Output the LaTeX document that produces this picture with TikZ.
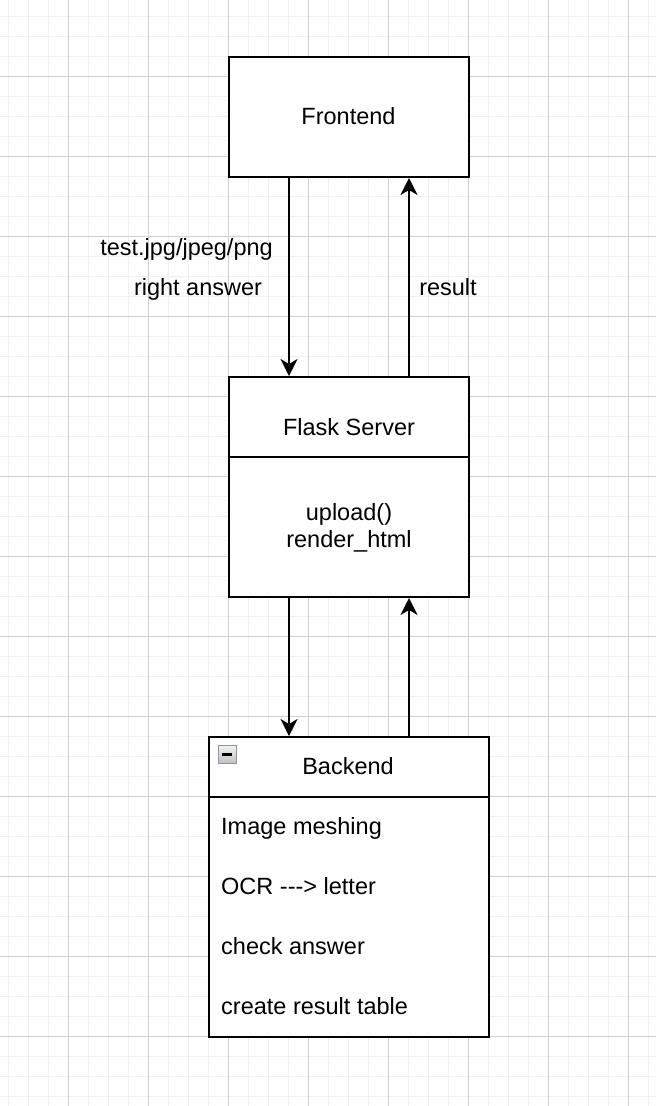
\documentclass[tikz,border=0pt]{standalone}
\usepackage{fontspec}
\setmainfont{Liberation Sans}
\usetikzlibrary{arrows.meta}

\definecolor{minorgrid}{HTML}{F0F0F0}
\definecolor{majorgrid}{HTML}{D0D0D0}
\definecolor{iconline}{HTML}{8A96A3}
\tikzstyle{box}=[draw,fill=white,line width=2pt,inner sep=0pt]
\tikzstyle{lbl}=[inner sep=0pt,anchor=base,font=\fontsize{23.5}{28}\selectfont]
\tikzstyle{item}=[lbl,anchor=base west]
\tikzstyle{arr}=[line width=2pt,-{Stealth[length=17pt,width=17pt,inset=5pt]}]

\begin{document}
\begin{tikzpicture}[x=1pt,y=-1pt]
\useasboundingbox (0,0) rectangle (656,1106);
% grid
\foreach \x in {8,28,...,648} \draw[minorgrid,line width=1pt] (\x,0) -- (\x,1106);
\foreach \y in {16,36,...,1096} \draw[minorgrid,line width=1pt] (0,\y) -- (656,\y);
\foreach \x in {68,148,...,628} \draw[majorgrid,line width=1pt] (\x,0) -- (\x,1106);
\foreach \y in {76,156,...,1036} \draw[majorgrid,line width=1pt] (0,\y) -- (656,\y);

% boxes
\node[box,minimum width=240pt,minimum height=120pt] (front) at (349,117) {};
\node[box,minimum width=240pt,minimum height=80pt]  (flaskhead) at (349,417) {};
\node[box,minimum width=240pt,minimum height=140pt] (flaskbody) at (349,527) {};
\node[box,minimum width=280pt,minimum height=60pt]  (backhead) at (349,767) {};
\node[box,minimum width=280pt,minimum height=240pt] (backbody) at (349,917) {};

% texts in the boxes
\node[lbl] (fronttext) at (348.5,124.5) {Frontend};
\node[lbl] (flasktext) at (349,435) {Flask Server};
\node[lbl] (upload)    at (349,520) {upload()};
\node[lbl] (render)    at (349,547) {render\_html};
\node[lbl] (backtext)  at (348,774.5) {Backend};
\node[item] (mesh)  at (221,834.5)  {Image meshing};
\node[item] (ocr)   at (221,894.5)  {OCR {-}{-}{-}> letter};
\node[item] (check) at (221,954.5)  {check answer};
\node[item] (table) at (221,1014.5) {create result table};

% collapse icon
\shade[top color=white!95!black,bottom color=white!75!black,draw=iconline,line width=1pt]
  (218,745.5) rectangle (236,763.5);
\draw[line width=2.5pt] (222,754.5) -- (232,754.5);

% connectors
\draw[arr] ([xshift=-60pt]front.south) -- ([xshift=-60pt]flaskhead.north);
\draw[arr] ([xshift=60pt]flaskhead.north) -- ([xshift=60pt]front.south);
\draw[arr] ([xshift=-60pt]flaskbody.south) -- ([xshift=-60pt]backhead.north);
\draw[arr] ([xshift=60pt]backhead.north) -- ([xshift=60pt]flaskbody.south);

\node[lbl] (file)   at (186.5,255) {test.jpg/jpeg/png};
\node[lbl] (answer) at (198,295) {right answer};
\node[lbl] (result) at (448,295) {result};
\end{tikzpicture}
\end{document}
